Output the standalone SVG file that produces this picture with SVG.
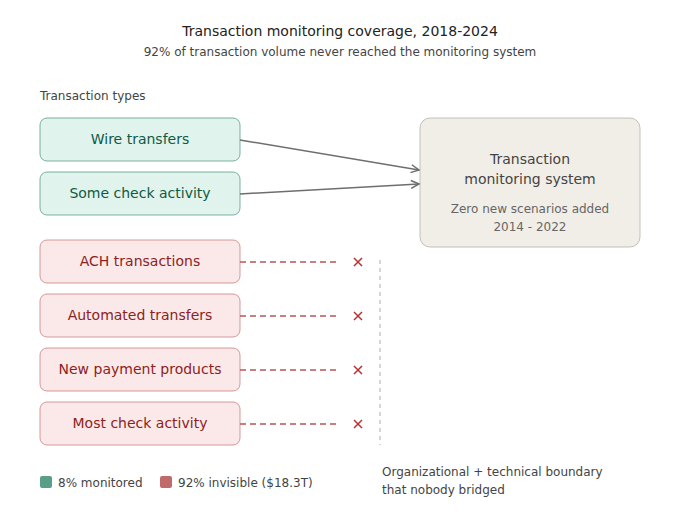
<svg xmlns="http://www.w3.org/2000/svg" width="680" height="520" viewBox="0 0 680 520">
<style>
text{font-family:"DejaVu Sans",sans-serif}
.g rect{fill:#e0f3ec;stroke:#5a9e88;stroke-width:0.8}
.g text{fill:#0f5a44;font-size:14px;text-anchor:middle}
.r rect{fill:#fbe9e9;stroke:#cc8080;stroke-width:0.8}
.r text{fill:#8b2222;font-size:14px;text-anchor:middle}
.dash{stroke:#b85555;stroke-width:1.5;stroke-dasharray:6 4;fill:none}
.x{stroke:#b83030;stroke-width:1.5}
.arr{stroke:#6e6e6e;stroke-width:1.5;fill:none;marker-end:url(#ah)}
</style>
<defs><marker id="ah" viewBox="0 0 10 10" refX="9" refY="5" markerWidth="10" markerHeight="10" markerUnits="userSpaceOnUse" orient="auto"><path d="M1,1 L9,5 L1,9" fill="none" stroke="#6e6e6e" stroke-width="1.5"/></marker></defs>
<rect width="680" height="520" fill="#fff"/>
<text x="340" y="36" font-size="14" text-anchor="middle" fill="#222">Transaction monitoring coverage, 2018-2024</text>
<text x="340" y="56" font-size="12" text-anchor="middle" fill="#444">92% of transaction volume never reached the monitoring system</text>
<text x="40" y="100" font-size="12" fill="#444">Transaction types</text>
<g id="wire" class="g"><rect x="40" y="118" width="200" height="43" rx="7"/><text x="140" y="144">Wire transfers</text></g>
<g id="check" class="g"><rect x="40" y="172" width="200" height="43" rx="7"/><text x="140" y="198">Some check activity</text></g>
<g id="ach" class="r"><rect x="40" y="240" width="200" height="43" rx="7"/><text x="140" y="266">ACH transactions</text></g>
<g id="auto" class="r"><rect x="40" y="294" width="200" height="43" rx="7"/><text x="140" y="320">Automated transfers</text></g>
<g id="newp" class="r"><rect x="40" y="348" width="200" height="43" rx="7"/><text x="140" y="374">New payment products</text></g>
<g id="most" class="r"><rect x="40" y="402" width="200" height="43" rx="7"/><text x="140" y="428">Most check activity</text></g>
<g id="tms"><rect x="420" y="118" width="220" height="129" rx="10" fill="#f1eee7" stroke="#b5b2a8" stroke-width="0.8"/>
<text x="530" y="164" font-size="14" text-anchor="middle" fill="#444">Transaction</text>
<text x="530" y="184" font-size="14" text-anchor="middle" fill="#444">monitoring system</text>
<text x="530" y="213" font-size="12" text-anchor="middle" fill="#666">Zero new scenarios added</text>
<text x="530" y="231" font-size="12" text-anchor="middle" fill="#666">2014 - 2022</text></g>
<g id="connectors">
<path class="arr" d="M240,140 L419,170"/>
<path class="arr" d="M240,194 L419,184"/>
<path class="dash" d="M240,262 H338 M240,316 H338 M240,370 H338 M240,424 H338"/>
<path class="x" d="M354,258 l8,8 m0,-8 l-8,8 M354,312 l8,8 m0,-8 l-8,8 M354,366 l8,8 m0,-8 l-8,8 M354,420 l8,8 m0,-8 l-8,8"/>
<path d="M380,260 V445" stroke="#c8c8c8" stroke-width="1.5" stroke-dasharray="4 4"/>
</g>
<text x="382" y="476" font-size="12" fill="#444">Organizational + technical boundary</text>
<text x="382" y="494" font-size="12" fill="#444">that nobody bridged</text>
<rect x="40" y="476" width="12" height="12" rx="2" fill="#5a9e88"/>
<text x="58" y="487" font-size="12" fill="#444">8% monitored</text>
<rect x="160" y="476" width="12" height="12" rx="2" fill="#c06a6a"/>
<text x="178" y="487" font-size="12" fill="#444">92% invisible ($18.3T)</text>
</svg>
